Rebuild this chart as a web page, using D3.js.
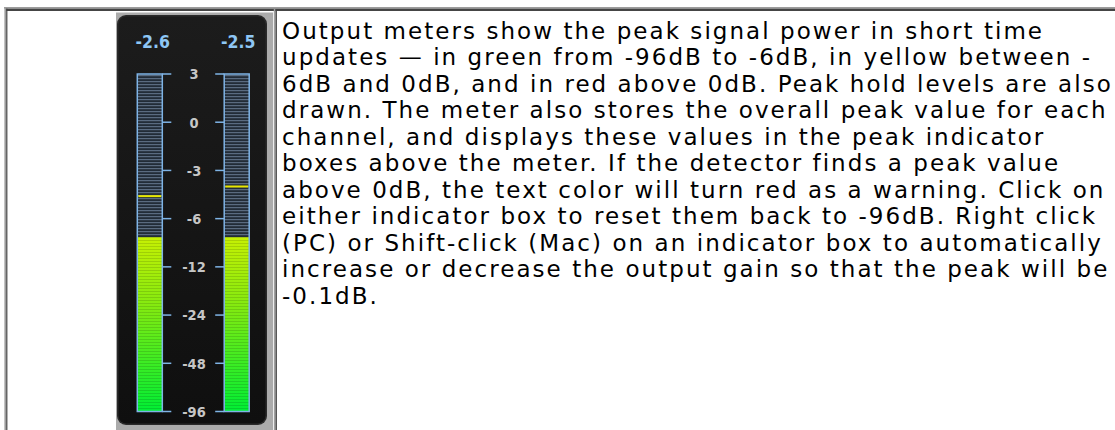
<!DOCTYPE html>
<html>
<head>
<meta charset="utf-8">
<script src="https://cdn.jsdelivr.net/npm/d3@7"></script>
<style>
  html, body { margin: 0; padding: 0; background: #fff; }
  svg { display: block; }
</style>
</head>
<body>
<div id="chart"></div>
<script>
// meter scale, top to bottom (dB)
var tickLabels = [3, 0, -3, -6, -12, -24, -48, -96];
var channels = ["L", "R"];
// current level and peak hold per channel (dB)
var levels = [-8.3, -8.3];
var peakHolds = [-4.6, -4.0];
// overall peak shown in the indicator boxes
var peakReadouts = ["-2.6", "-2.5"];

var descLines = [
    "Output meters show the peak signal power in short time",
    "updates \u2014 in green from -96dB to -6dB, in yellow between -",
    "6dB and 0dB, and in red above 0dB. Peak hold levels are also",
    "drawn. The meter also stores the overall peak value for each",
    "channel, and displays these values in the peak indicator",
    "boxes above the meter. If the detector finds a peak value",
    "above 0dB, the text color will turn red as a warning. Click on",
    "either indicator box to reset them back to -96dB. Right click",
    "(PC) or Shift-click (Mac) on an indicator box to automatically",
    "increase or decrease the output gain so that the peak will be",
    "-0.1dB."
];

var width = 1115, height = 430;

var svg = d3.select("#chart").append("svg")
    .attr("width", width)
    .attr("height", height);

var defs = svg.append("defs");

/*
 * Table frame (outer border + cell borders)
 */
var frame = svg.append("g").attr("class", "frame");
frame.append("rect").attr("x", 4).attr("y", 7).attr("width", width).attr("height", 1.6).attr("fill", "#9c9c9c");
frame.append("rect").attr("x", 4.4).attr("y", 7).attr("width", 1.8).attr("height", height).attr("fill", "#9c9c9c");
frame.append("rect").attr("x", 6.2).attr("y", 8.6).attr("width", width).attr("height", 2.4).attr("fill", "#454545");
frame.append("rect").attr("x", 6.2).attr("y", 8.6).attr("width", 1.2).attr("height", height).attr("fill", "#454545");
// divider between the two cells
frame.append("rect").attr("x", 273.8).attr("y", 9).attr("width", 1.7).attr("height", height).attr("fill", "#a0a0a0");
frame.append("rect").attr("x", 275.5).attr("y", 9).attr("width", 1.4).attr("height", height).attr("fill", "#454545");

/*
 * Meter panel
 */
var meter = svg.append("g").attr("class", "meter");

var panelGrad = defs.append("linearGradient").attr("id", "panelGrad")
    .attr("x1", 0).attr("y1", 0).attr("x2", 0).attr("y2", 1);
panelGrad.append("stop").attr("offset", "0%").attr("stop-color", "#1c1c1c");
panelGrad.append("stop").attr("offset", "100%").attr("stop-color", "#0f0f0f");

meter.append("rect")
    .attr("x", 116).attr("y", 12.5).attr("width", 157).attr("height", height)
    .attr("fill", "#ababab");
meter.append("rect")
    .attr("x", 117).attr("y", 15).attr("width", 150).attr("height", 410)
    .attr("rx", 9)
    .attr("fill", "#2a2a2a");
meter.append("rect")
    .attr("x", 118.5).attr("y", 16.5).attr("width", 147).attr("height", 407)
    .attr("rx", 8)
    .attr("fill", "url(#panelGrad)");

var yPoint = d3.scalePoint().domain(tickLabels).range([74, 411.5]);
var y = d3.scaleLinear()
    .domain(tickLabels)
    .range(tickLabels.map(function(d) { return yPoint(d); }))
    .clamp(true);

var x = d3.scalePoint().domain(channels).range([149.8, 236.7]);
var barW = 25;
var tickLen = 9;
var yTop = y(tickLabels[0]), yBot = y(tickLabels[tickLabels.length - 1]);

// unlit segment texture
var offPat = defs.append("pattern").attr("id", "offPat")
    .attr("patternUnits", "userSpaceOnUse")
    .attr("width", 4).attr("height", 3)
    .attr("y", yTop);
offPat.append("rect").attr("width", 4).attr("height", 3).attr("fill", "#222c37");
offPat.append("rect").attr("y", 1).attr("width", 4).attr("height", 1.2).attr("fill", "#5a6b80");

// lit segment colour: yellow-green near -6, green at the floor
var litGrad = defs.append("linearGradient").attr("id", "litGrad")
    .attr("gradientUnits", "userSpaceOnUse")
    .attr("x1", 0).attr("x2", 0)
    .attr("y1", y(-6)).attr("y2", yBot);
litGrad.append("stop").attr("offset", "0%").attr("stop-color", "#d8f200");
litGrad.append("stop").attr("offset", "45%").attr("stop-color", "#84ea10");
litGrad.append("stop").attr("offset", "100%").attr("stop-color", "#00ee34");

var litPat = defs.append("pattern").attr("id", "litPat")
    .attr("patternUnits", "userSpaceOnUse")
    .attr("width", 4).attr("height", 3)
    .attr("y", yTop);
litPat.append("rect").attr("y", 1).attr("width", 4).attr("height", 1).attr("fill", "rgba(0,0,0,0.13)");

var bars = meter.selectAll(".channel")
    .data(channels)
    .enter().append("g")
    .attr("class", "channel");

bars.append("rect")
    .attr("x", function(d) { return x(d) - barW / 2; })
    .attr("y", yTop)
    .attr("width", barW)
    .attr("height", yBot - yTop)
    .attr("fill", "url(#offPat)");

bars.append("rect")
    .attr("x", function(d) { return x(d) - barW / 2; })
    .attr("y", function(d, i) { return y(levels[i]); })
    .attr("width", barW)
    .attr("height", function(d, i) { return yBot - y(levels[i]); })
    .attr("fill", "url(#litGrad)");

bars.append("rect")
    .attr("x", function(d) { return x(d) - barW / 2; })
    .attr("y", function(d, i) { return y(levels[i]); })
    .attr("width", barW)
    .attr("height", function(d, i) { return yBot - y(levels[i]); })
    .attr("fill", "url(#litPat)");

// peak hold markers
bars.append("line")
    .attr("x1", function(d) { return x(d) - barW / 2 + 1; })
    .attr("x2", function(d) { return x(d) + barW / 2 - 1; })
    .attr("y1", function(d, i) { return y(peakHolds[i]); })
    .attr("y2", function(d, i) { return y(peakHolds[i]); })
    .attr("stroke", "#e8e800")
    .attr("stroke-width", 2);

// bar outlines
bars.append("rect")
    .attr("x", function(d) { return x(d) - barW / 2; })
    .attr("y", yTop)
    .attr("width", barW)
    .attr("height", yBot - yTop)
    .attr("fill", "none")
    .attr("stroke", "#7fb4e6")
    .attr("stroke-width", 1.5);

// ticks on the inner side of each bar
bars.each(function(d, i) {
    var edge = i === 0 ? x(d) + barW / 2 : x(d) - barW / 2;
    var dir = i === 0 ? 1 : -1;
    d3.select(this).selectAll(".tick")
        .data(tickLabels)
        .enter().append("line")
        .attr("class", "tick")
        .attr("x1", edge)
        .attr("x2", edge + dir * tickLen)
        .attr("y1", function(t) { return y(t); })
        .attr("y2", function(t) { return y(t); })
        .attr("stroke", "#7fb4e6")
        .attr("stroke-width", 1.5);
});

// scale labels
meter.selectAll(".tickLabel")
    .data(tickLabels)
    .enter().append("text")
    .attr("class", "tickLabel")
    .attr("x", 194)
    .attr("y", function(d) { return y(d); })
    .attr("dy", "0.37em")
    .attr("text-anchor", "middle")
    .attr("font-family", "'DejaVu Sans Condensed', 'DejaVu Sans', sans-serif")
    .attr("font-weight", "bold")
    .attr("font-size", "14.5px")
    .attr("fill", "#c6c6c6")
    .text(function(d) { return d; });

// peak indicator readouts
meter.selectAll(".readout")
    .data(peakReadouts)
    .enter().append("text")
    .attr("class", "readout")
    .attr("x", function(d, i) { return x(channels[i]) + (i === 0 ? 3 : 1.5); })
    .attr("y", 47.5)
    .attr("text-anchor", "middle")
    .attr("font-family", "'DejaVu Sans Condensed', 'DejaVu Sans', sans-serif")
    .attr("font-weight", "bold")
    .attr("font-size", "17.5px")
    .attr("fill", "#8ec6f4")
    .text(function(d) { return d; });

/*
 * Description text
 */
svg.append("g").attr("class", "desc")
    .selectAll("text")
    .data(descLines)
    .enter().append("text")
    .attr("x", 282)
    .attr("y", function(d, i) { return 38.5 + i * 26.5; })
    .attr("font-family", "'DejaVu Sans', Verdana, sans-serif")
    .attr("font-size", "23px")
    .attr("letter-spacing", "2.05px")
    .attr("fill", "#000")
    .text(function(d) { return d; });
</script>
</body>
</html>
